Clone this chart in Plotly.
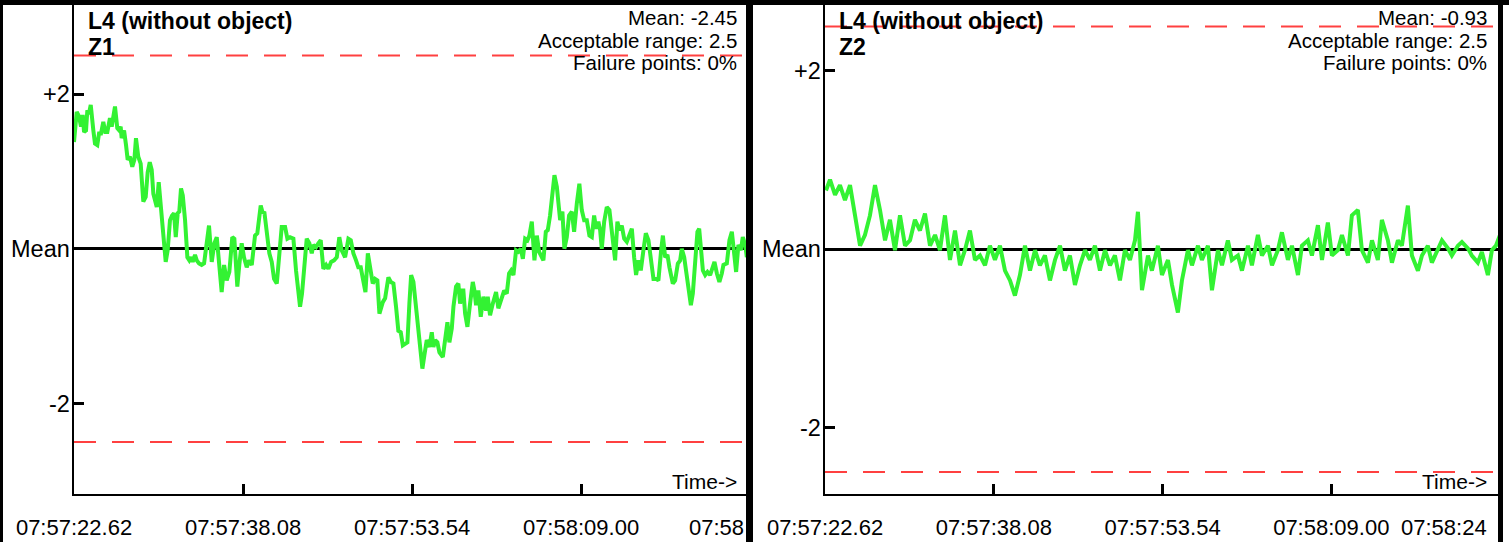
import plotly.graph_objects as go

# ---------------- data ----------------
panel_titles = ["L4 (without object)", "L4 (without object)"]
zone_names = ["Z1", "Z2"]
mean_values = [-2.45, -0.93]
acceptable_range = [2.5, 2.5]
failure_points = ["0%", "0%"]

tick_seconds = [0.0, 15.46, 30.92, 46.38]
tick_labels = ["07:57:22.62", "07:57:38.08", "07:57:53.54", "07:58:09.00"]
end_second = 61.84
end_labels = ["07:58", "07:58:24"]

y_tick_vals = [-2, 0, 2]
y_tick_text = ["-2", "Mean", "+2"]

# deviation from mean, panel Z1 (time in s after 07:57:22.62)
z1_t = [0.0, 0.25, 0.46, 0.64, 0.80, 0.92, 1.10, 1.22, 1.40, 1.53, 1.77, 1.92, 2.13, 2.29, 2.47, 2.68,
        2.86, 3.05, 3.29, 3.45, 3.75, 3.96, 4.14, 4.27, 4.36, 4.58, 4.76, 4.91, 5.12, 5.33, 5.52, 5.67,
        5.88, 6.10, 6.34, 6.56, 6.74, 6.93, 7.11, 7.26, 7.44, 7.57, 7.75, 7.93, 8.12, 8.24, 8.39, 8.57,
        8.78, 8.97, 9.15, 9.31, 9.49, 9.63, 9.79, 9.95, 10.16, 10.37, 10.55, 10.71, 10.86, 11.07, 11.23,
        11.44, 11.68, 11.90, 12.14, 12.35, 12.60, 12.84, 13.06, 13.27, 13.51, 13.73, 13.97, 14.21, 14.48,
        14.67, 14.94, 15.12, 15.34, 15.55, 15.80, 16.01, 16.26, 16.56, 16.77, 17.08, 17.27, 17.41, 17.63,
        17.87, 18.09, 18.30, 18.55, 18.78, 19.00, 19.31, 19.52, 19.76, 20.07, 20.31, 20.47, 20.68, 20.86,
        21.07, 21.29, 21.53, 21.75, 21.90, 22.14, 22.35, 22.57, 22.81, 23.06, 23.27, 23.52, 23.79, 24.04,
        24.27, 24.49, 24.80, 25.10, 25.32, 25.56, 25.80, 26.01, 26.23, 26.47, 26.66, 26.88, 27.09, 27.33,
        27.54, 27.75, 27.94, 28.25, 28.46, 28.76, 28.98, 29.22, 29.46, 29.67, 29.89, 30.08, 30.29, 30.50,
        30.68, 30.84, 31.05, 31.29, 31.50, 31.66, 31.87, 32.05, 32.27, 32.51, 32.73, 32.88, 33.04, 33.24,
        33.43, 33.74, 33.95, 34.16, 34.34, 34.56, 34.71, 34.95, 35.16, 35.32, 35.47, 35.62, 35.78, 35.99,
        36.23, 36.48, 36.63, 36.78, 36.99, 37.21, 37.45, 37.70, 37.85, 38.06, 38.31, 38.61, 38.82, 39.07,
        39.35, 39.59, 39.80, 39.99, 40.20, 40.44, 40.65, 40.87, 41.06, 41.27, 41.48, 41.66, 41.88, 42.12,
        42.34, 42.55, 42.73, 42.94, 43.16, 43.34, 43.55, 43.76, 43.95, 44.17, 44.31, 44.47, 44.68, 44.86,
        45.08, 45.29, 45.54, 45.75, 46.00, 46.23, 46.45, 46.67, 46.91, 47.15, 47.37, 47.58, 47.76, 47.97,
        48.13, 48.28, 48.50, 48.74, 48.98, 49.20, 49.35, 49.50, 49.71, 49.90, 50.11, 50.33, 50.57, 50.81,
        51.03, 51.24, 51.42, 51.63, 51.85, 52.09, 52.31, 52.55, 52.77, 53.01, 53.26, 53.46, 53.71, 53.87,
        54.08, 54.29, 54.47, 54.78, 54.99, 55.24, 55.45, 55.60, 55.82, 56.00, 56.21, 56.43, 56.61, 56.82,
        57.03, 57.19, 57.34, 57.53, 57.74, 57.95, 58.19, 58.40, 58.59, 58.81, 59.04, 59.26, 59.41, 59.72,
        59.96, 60.18, 60.39, 60.57, 60.78, 61.00, 61.18, 61.40, 61.55]
z1_v = [1.38, 1.77, 1.71, 1.58, 1.73, 1.51, 1.53, 1.79, 1.77, 1.86, 1.53, 1.36, 1.34, 1.49, 1.49, 1.64,
        1.51, 1.51, 1.69, 1.58, 1.84, 1.56, 1.53, 1.58, 1.43, 1.53, 1.34, 1.15, 1.19, 1.06, 1.15, 1.43,
        1.19, 1.10, 0.61, 0.67, 0.99, 1.12, 1.02, 0.71, 0.61, 0.54, 0.86, 0.54, 0.26, -0.02, -0.17, -0.02,
        0.37, 0.43, 0.46, 0.15, 0.46, 0.48, 0.78, 0.69, 0.37, -0.11, -0.15, -0.11, -0.17, -0.08, -0.15,
        -0.19, -0.21, -0.19, 0.11, 0.30, -0.17, 0.07, 0.15, -0.21, -0.56, -0.21, -0.41, -0.30, 0.15,
        0.13, -0.49, -0.21, 0.07, -0.11, -0.24, -0.15, -0.21, 0.17, 0.20, 0.56, 0.46, 0.48, 0.24,
        -0.06, -0.17, -0.39, -0.45, -0.02, 0.28, 0.28, 0.13, 0.15, 0.13, -0.28, -0.49, -0.75, -0.58,
        -0.21, 0.13, 0.07, -0.06, 0.05, 0.02, 0.07, 0.11, -0.26, -0.21, -0.26, -0.17, -0.15, -0.11,
        0.15, -0.02, -0.11, 0.13, 0.11, -0.06, -0.15, -0.24, -0.24, -0.43, -0.56, -0.06, -0.24, -0.45,
        -0.39, -0.41, -0.84, -0.69, -0.64, -0.37, -0.43, -0.45, -0.75, -1.06, -1.08, -1.25, -1.23, -1.21,
        -0.71, -0.34, -0.43, -0.75, -1.06, -1.27, -1.55, -1.38, -1.18, -1.27, -1.08, -1.27, -1.18, -1.21,
        -1.34, -1.40, -1.16, -0.95, -1.21, -1.03, -0.75, -0.49, -0.45, -0.71, -0.54, -0.54, -0.84, -1.01,
        -0.71, -0.43, -0.54, -0.73, -0.54, -0.88, -0.62, -0.80, -0.62, -0.86, -0.71, -0.56, -0.77, -0.64,
        -0.54, -0.58, -0.32, -0.28, -0.34, -0.02, -0.04, 0.00, -0.13, 0.13, 0.11, 0.17, 0.35, -0.15,
        0.17, -0.04, -0.08, -0.15, 0.22, 0.24, 0.43, 0.71, 0.95, 0.80, 0.52, 0.37, 0.48, 0.00,
        0.15, 0.43, 0.48, 0.22, 0.59, 0.84, 0.50, 0.37, 0.37, 0.17, 0.15, 0.43, 0.26, 0.35,
        0.24, 0.00, 0.35, 0.54, 0.50, 0.22, -0.02, -0.15, 0.35, 0.24, 0.30, 0.13, 0.09, 0.20,
        0.26, -0.11, -0.34, -0.15, -0.28, -0.02, 0.20, 0.11, -0.15, -0.39, -0.39, -0.41, -0.02, 0.17,
        -0.11, -0.08, -0.24, -0.45, -0.41, -0.19, -0.15, 0.00, -0.11, -0.28, -0.56, -0.73, -0.58, -0.15,
        0.22, 0.26, 0.02, -0.28, -0.34, -0.30, -0.34, -0.24, -0.17, -0.32, -0.43, -0.32, -0.21, -0.19,
        0.11, 0.22, -0.04, -0.30, 0.05, -0.02, 0.15, 0.05, -0.11]

# deviation from mean, panel Z2
z2_t = [0.09, 0.46, 0.92, 1.37, 1.83, 2.29, 2.75, 3.21, 3.66, 4.12, 4.58, 5.04, 5.50, 5.95, 6.41, 6.87,
        7.33, 7.79, 8.24, 8.70, 9.16, 9.62, 10.08, 10.53, 10.99, 11.45, 11.91, 12.37, 12.82, 13.28, 13.74,
        14.20, 14.66, 15.11, 15.57, 16.03, 16.49, 16.95, 17.40, 17.86, 18.32, 18.78, 19.24, 19.69, 20.15,
        20.61, 21.07, 21.53, 21.98, 22.44, 22.90, 23.36, 23.82, 24.27, 24.73, 25.19, 25.65, 26.11, 26.56,
        27.02, 27.48, 27.94, 28.40, 28.67, 29.04, 29.59, 29.95, 30.50, 30.87, 31.42, 31.79, 32.33, 32.70,
        33.25, 33.62, 34.17, 34.53, 35.08, 35.45, 36.00, 36.37, 36.91, 37.28, 37.83, 38.20, 38.75, 39.11,
        39.66, 40.03, 40.58, 40.95, 41.49, 41.86, 42.41, 42.78, 43.33, 43.69, 44.24, 44.61, 45.16, 45.53,
        46.07, 46.44, 46.99, 47.36, 47.91, 48.27, 48.82, 49.19, 49.74, 50.11, 50.65, 51.02, 51.57, 51.94,
        52.49, 52.85, 53.40, 53.77, 54.32, 54.69, 55.23, 55.60, 56.15, 56.52, 57.07, 57.43, 57.98, 58.35,
        58.90, 59.26, 59.81, 60.18, 60.73, 61.10, 61.47, 61.84]
z2_v = [0.66, 0.78, 0.61, 0.72, 0.55, 0.72, 0.38, 0.04, 0.16, 0.38, 0.72, 0.44, 0.10, 0.33, -0.01, 0.38,
        0.04, 0.10, 0.33, 0.21, 0.40, 0.04, 0.16, -0.01, 0.38, -0.12, 0.21, -0.18, -0.01, 0.21, -0.12,
        -0.07, -0.18, 0.04, -0.12, 0.04, -0.24, -0.35, -0.52, -0.29, 0.04, -0.24, -0.01, -0.18, -0.07,
        -0.35, -0.12, 0.04, -0.24, -0.07, -0.40, -0.18, -0.01, -0.12, 0.04, -0.24, -0.01, -0.18, -0.07,
        -0.35, -0.01, -0.12, 0.10, 0.42, -0.46, -0.07, -0.24, 0.04, -0.29, -0.12, -0.40, -0.71, -0.35,
        -0.01, -0.18, 0.04, -0.12, 0.04, -0.46, -0.01, -0.18, 0.10, -0.12, -0.07, -0.24, 0.04, -0.18,
        0.16, -0.07, 0.04, -0.18, -0.01, 0.19, -0.12, 0.04, -0.29, 0.04, 0.10, -0.07, 0.27, -0.12,
        0.30, -0.07, -0.01, 0.16, -0.07, 0.38, 0.44, -0.01, -0.15, 0.10, -0.12, 0.33, 0.10, -0.15,
        0.10, 0.04, 0.49, -0.07, -0.24, -0.07, 0.04, -0.15, -0.01, 0.10, 0.01, -0.07, 0.04, 0.08,
        0.01, -0.07, -0.15, -0.03, -0.29, -0.01, 0.04, 0.16]

y_ranges = [[-3.165, 3.152], [-2.74, 2.74]]

# ---------------- figure ----------------
W, H = 1509, 542
FONT = "Arial, Liberation Sans, sans-serif"
GREEN = "#33f233"
RED = "#ff4040"

x_domains = [[74 / W, 750 / W], [825 / W, 1500 / W]]
y_domain = [48.5 / H, 537 / H]

fig = go.Figure()
series = [(z1_t, z1_v), (z2_t, z2_v)]
for i, (t, v) in enumerate(series):
    xa = "x" if i == 0 else "x2"
    ya = "y" if i == 0 else "y2"
    r = acceptable_range[i]
    for lim in (r, -r):
        fig.add_trace(go.Scatter(x=[0, end_second], y=[lim, lim], mode="lines",
                                 line=dict(color=RED, width=2, dash="22px,16px"),
                                 xaxis=xa, yaxis=ya, hoverinfo="skip"))
    fig.add_trace(go.Scatter(x=t, y=v, mode="lines", line=dict(color=GREEN, width=4),
                             xaxis=xa, yaxis=ya, hoverinfo="skip"))

common_x = dict(range=[0, end_second], showgrid=False, zeroline=False, showline=True,
                linecolor="black", linewidth=2.5, ticks="inside", ticklen=10, tickwidth=3,
                tickcolor="black", tickvals=tick_seconds, ticktext=tick_labels, automargin=False,
                tickfont=dict(family=FONT, size=22, color="black"), ticklabelstandoff=13)
common_y = dict(showgrid=False, zeroline=True, zerolinecolor="black", zerolinewidth=3,
                showline=True, linecolor="black", linewidth=2.5, ticks="inside", ticklen=10,
                tickwidth=3, tickcolor="black", tickvals=y_tick_vals, ticktext=y_tick_text,
                tickfont=dict(family=FONT, size=23.5, color="black"), domain=y_domain,
                ticklabelstandoff=-3, automargin=False)

fig.update_layout(
    width=W, height=H, margin=dict(l=0, r=0, t=0, b=0, pad=0, autoexpand=False),
    paper_bgcolor="white", plot_bgcolor="white", showlegend=False,
    xaxis=dict(domain=x_domains[0], anchor="y", **common_x),
    xaxis2=dict(domain=x_domains[1], anchor="y2", **common_x),
    yaxis=dict(range=y_ranges[0], anchor="x", **common_y),
    yaxis2=dict(range=y_ranges[1], anchor="x2", **common_y),
)

# annotations
annos = []
for i in range(2):
    left_px = x_domains[i][0] * W
    right_px = x_domains[i][1] * W
    tx = (left_px + 12) / W
    annos.append(dict(text="<b>%s</b>" % panel_titles[i], x=tx, y=1 - 21 / H, xref="paper", yref="paper",
                      xanchor="left", yanchor="middle", showarrow=False,
                      font=dict(family=FONT, size=23, color="black")))
    annos.append(dict(text="<b>%s</b>" % zone_names[i], x=tx, y=1 - 47 / H, xref="paper", yref="paper",
                      xanchor="left", yanchor="middle", showarrow=False,
                      font=dict(family=FONT, size=23, color="black")))
    sx = (right_px - 11.5) / W
    stats = ["Mean: %.2f" % mean_values[i], "Acceptable range: %s" % acceptable_range[i],
             "Failure points: %s" % failure_points[i]]
    for k, s in enumerate(stats):
        annos.append(dict(text=s, x=sx, y=1 - (18 + 22 * k) / H, xref="paper", yref="paper",
                          xanchor="right", yanchor="middle", showarrow=False,
                          font=dict(family=FONT, size=20.5, color="black")))
    annos.append(dict(text="Time->", x=sx, y=1 - 482 / H, xref="paper", yref="paper",
                      xanchor="right", yanchor="middle", showarrow=False,
                      font=dict(family=FONT, size=21, color="black")))
    # last (partly hidden) time label at the right end of each axis
    annos.append(dict(text=end_labels[i], x=end_second, xref="x" if i == 0 else "x2",
                      y=1 - 527 / H, yref="paper", xanchor="right", yanchor="middle",
                      xshift=-4 if i == 0 else -11, showarrow=False,
                      font=dict(family=FONT, size=22, color="black")))
fig.update_layout(annotations=annos)

# black frame pieces
frame = [(0, W, 0, 5), (0, 3, 0, H), (746, 753, 0, H), (1498, 1503, 0, H)]
shapes = []
for x0, x1, y0, y1 in frame:
    shapes.append(dict(type="rect", xref="paper", yref="paper", x0=x0 / W, x1=x1 / W,
                       y0=1 - y1 / H, y1=1 - y0 / H, fillcolor="black", line=dict(width=0),
                       layer="above"))
fig.update_layout(shapes=shapes)

fig.write_html("out.html", config={"displayModeBar": False, "staticPlot": True},
               post_script="document.body.style.margin='0';document.body.style.overflow='hidden';")
